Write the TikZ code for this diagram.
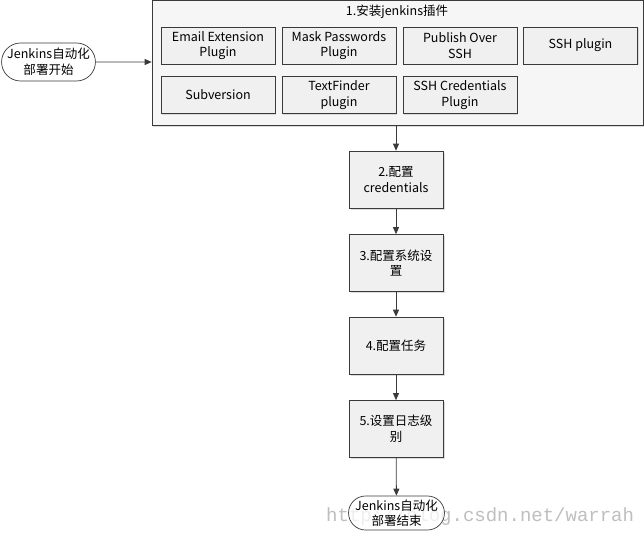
\documentclass[tikz,border=0pt]{standalone}
\usepackage{fontspec}
\setmainfont{Noto Sans CJK SC}
\newfontfamily\wmfont{Liberation Mono}
\usetikzlibrary{arrows.meta,shadows,shapes.misc}
\definecolor{boxfill}{HTML}{F0F0F0}
\definecolor{linec}{HTML}{3A3A3A}
\tikzset{
  every node/.style={font=\fontsize{12.5}{15.5}\selectfont, text=black},
  plug/.style={draw=linec, line width=0.7pt, fill=boxfill, minimum width=114pt, minimum height=37pt, align=center, inner sep=1pt,
    drop shadow={shadow xshift=1.2pt, shadow yshift=-1.2pt, fill=gray!45, opacity=0.6}},
  stepbox/.style={draw=linec, line width=0.7pt, fill=boxfill, minimum width=94pt, minimum height=57pt, align=center, inner sep=1pt,
    drop shadow={shadow xshift=1.5pt, shadow yshift=-1.5pt, fill=gray!45, opacity=0.6}},
  term/.style={draw=linec, line width=0.7pt, fill=white, rounded rectangle, minimum width=92pt, minimum height=38pt, align=center, inner sep=0pt},
  conn/.style={draw=linec, line width=0.8pt, -{Triangle[length=7pt,width=6pt]}}
}
\begin{document}
\begin{tikzpicture}[x=1pt,y=-1pt]
\useasboundingbox[fill=white] (0,0) rectangle (644,532);
% container
\node[draw=linec, line width=0.7pt, fill=boxfill!60, minimum width=491pt, minimum height=125pt, inner sep=0pt,
  drop shadow={shadow xshift=1.2pt, shadow yshift=-1.2pt, fill=gray!45, opacity=0.6}] (cont) at (397.5,63) {};
\node (title) at (397,12) {1.安装jenkins插件};
\node[plug] (p1) at (218,45.5) {Email Extension\\Plugin};
\node[plug] (p2) at (339,45.5) {Mask Passwords\\Plugin};
\node[plug] (p3) at (460,45.5) {Publish Over\\SSH};
\node[plug] (p4) at (580.5,45.5) {SSH plugin};
\node[plug] (p5) at (218,95) {Subversion};
\node[plug] (p6) at (339,95) {TextFinder\\plugin};
\node[plug] (p7) at (460,95) {SSH Credentials\\Plugin};
% start
\node[term] (start) at (48.5,62) {Jenkins自动化\\部署开始};
% steps
\node[stepbox] (s2) at (396,179.5) {2.配置\\credentials};
\node[stepbox] (s3) at (396,263) {3.配置系统设\\置};
\node[stepbox] (s4) at (396,345.5) {4.配置任务};
\node[stepbox] (s5) at (396,429) {5.设置日志级\\别};
% watermark (under the end node, as in the reference)
\node[anchor=base west, inner sep=0pt, font=\wmfont\fontsize{19}{20}\selectfont, text=gray!50] (wm) at (326,521) {http://blog.csdn.net/warrah};
\node[term, minimum width=91pt, minimum height=34pt, fill=white, fill opacity=0.75, text opacity=1] (end) at (396.5,513) {Jenkins自动化\\部署结束};
% connectors
\draw[conn] (start) -- (cont.west |- start);
\draw[conn] (cont.south -| s2) -- (s2);
\draw[conn] (s2) -- (s3);
\draw[conn] (s3) -- (s4);
\draw[conn] (s4) -- (s5);
\draw[conn] (s5) -- (end);
\end{tikzpicture}
\end{document}
